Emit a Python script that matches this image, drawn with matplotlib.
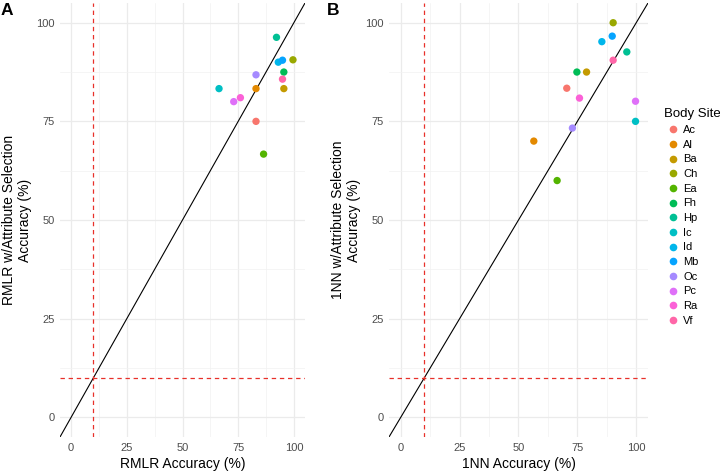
import matplotlib
matplotlib.use("Agg")
import matplotlib.pyplot as plt
from matplotlib.lines import Line2D
import numpy as np

plt.rcParams['font.family'] = ['Liberation Sans', 'DejaVu Sans']

# body sites and ggplot hue colours
sites = ["Ac", "Al", "Ba", "Ch", "Ea", "Fh", "Hp", "Ic", "Id", "Mb", "Oc", "Pc", "Ra", "Vf"]
site_colors = ["#F8766D", "#E38900", "#C49A00", "#99A800", "#53B400", "#00BC56", "#00C094",
               "#00BFC4", "#00B6EB", "#06A4FF", "#A58AFF", "#DF70F8", "#FB61D7", "#FF66A8"]

# panel A: RMLR
rmlr_acc = [83.0, 83.0, 95.5, 99.6, 86.4, 95.5, 92.2, 66.4, 93.0, 94.9, 83.0, 73.0, 76.0, 94.9]
rmlr_sel_acc = [75.0, 83.3, 83.3, 90.6, 66.7, 87.5, 96.3, 83.3, 90.0, 90.5, 86.8, 80.0, 81.0, 85.7]

# panel B: 1NN
nn_acc = [70.5, 56.5, 78.9, 90.2, 66.4, 74.8, 96.0, 99.7, 85.4, 89.8, 72.9, 99.7, 75.9, 90.2]
nn_sel_acc = [83.4, 70.0, 87.5, 100.0, 60.0, 87.5, 92.6, 75.0, 95.2, 96.6, 73.3, 80.1, 80.9, 90.5]

chance = 10


def panel(ax, x, y, xlabel, ylabel):
    ax.set_xlim(-5, 105)
    ax.set_ylim(-5, 105)
    for s in ax.spines.values():
        s.set_visible(False)
    ticks = [0, 25, 50, 75, 100]
    ax.set_xticks(ticks)
    ax.set_yticks(ticks)
    ax.set_xticks([12.5, 37.5, 62.5, 87.5], minor=True)
    ax.set_yticks([12.5, 37.5, 62.5, 87.5], minor=True)
    ax.grid(which='major', color='#EBEBEB', linewidth=0.9)
    ax.grid(which='minor', color='#F2F2F2', linewidth=0.5)
    ax.tick_params(which='both', length=0, labelsize=8, labelcolor='#4D4D4D', pad=4)
    ax.set_axisbelow(True)

    ax.axline((0, 0), slope=1, color='black', linewidth=0.8, zorder=2)
    ax.axvline(chance, color='#E8302A', linestyle=(0, (3.5, 3)), linewidth=0.9, zorder=2)
    ax.axhline(chance, color='#E8302A', linestyle=(0, (3.5, 3)), linewidth=0.9, zorder=2)
    ax.scatter(x, y, c=site_colors, s=28, linewidths=0, zorder=3)

    ax.set_xlabel(xlabel, fontsize=10, labelpad=3)
    ax.set_ylabel(ylabel, fontsize=10, labelpad=2.5)


fig = plt.figure(figsize=(7.2, 4.72), dpi=100)
ax1 = fig.add_axes([60/720, 35/472, 245/720, 434/472])
ax2 = fig.add_axes([389/720, 35/472, 259/720, 434/472])

panel(ax1, rmlr_acc, rmlr_sel_acc, "RMLR Accuracy (%)", "RMLR w/Attribute Selection\nAccuracy (%)")
panel(ax2, nn_acc, nn_sel_acc, "1NN Accuracy (%)", "1NN w/Attribute Selection\nAccuracy (%)")

fig.text(1/720, 1 - 3/472, "A", fontsize=12.5, fontweight='bold', va='top', ha='left')
fig.text(327/720, 1 - 3/472, "B", fontsize=12.5, fontweight='bold', va='top', ha='left')

handles = [Line2D([], [], marker='o', linestyle='none', markersize=5.5,
                  markerfacecolor=c, markeredgewidth=0) for c in site_colors]
leg = fig.legend(handles, sites, title="Body Site", loc='upper left',
                 bbox_to_anchor=(660/720, 1 - 104/472), frameon=False,
                 fontsize=8, title_fontsize=9.5, labelspacing=0.42,
                 handletextpad=0.1, handlelength=1.6, borderaxespad=0)
leg._legend_box.align = "left"

fig.savefig("out.png", dpi=100)
